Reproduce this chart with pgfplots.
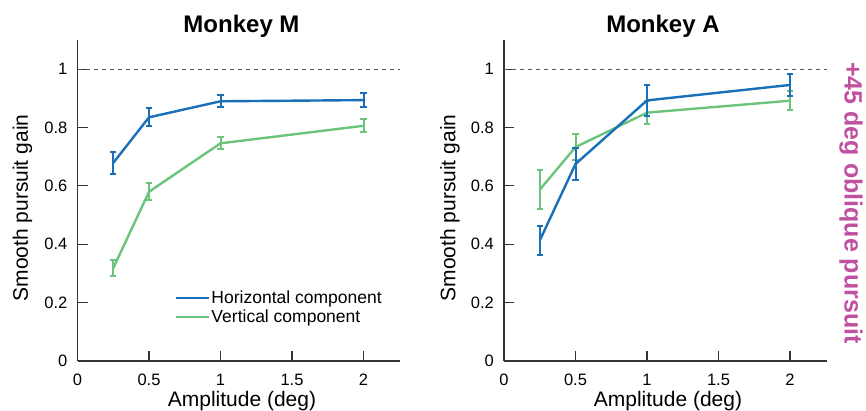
\documentclass[border=0pt]{standalone}
\usepackage{fontspec}
\setmainfont{Liberation Sans}
\usepackage{pgfplots}
\pgfplotsset{compat=1.18}
\definecolor{hBlue}{HTML}{1A70B8}
\definecolor{vGreen}{HTML}{6CC47C}
\definecolor{axisD}{HTML}{333333}
\definecolor{refG}{HTML}{555555}
\definecolor{sideM}{HTML}{C050A0}
\pgfplotsset{
  gainaxis/.style={
    scale only axis, width=322.5pt, height=321pt,
    xmin=0, xmax=2.255, ymin=0, ymax=1.1,
    axis lines=left,
    axis line style={-, axisD, line width=1.3pt},
    tick align=inside,
    major tick length=10pt,
    every tick/.append style={axisD, line width=1.1pt},
    xtick={0,0.5,1,1.5,2}, ytick={0,0.2,0.4,0.6,0.8,1},
    /pgf/number format/assume math mode=true,
    ticklabel style={font=\fontsize{16.5}{18}\selectfont, inner sep=0pt},
    xticklabel style={anchor=base, yshift=-24pt},
    yticklabel style={anchor=east, xshift=-10pt},
    clip=false,
  },
  gline/.style={line width=2.4pt, mark=none,
    error bars/.cd, y dir=both, y explicit,
    error mark=-,
    error bar style={line width=2pt},
    error mark options={rotate=90, line width=2pt, mark size=3.2pt}},
  refline/.style={refG, line width=1.3pt, dash pattern=on 4pt off 4pt, forget plot},
}
\begin{document}
\begin{tikzpicture}
\useasboundingbox (0pt,0pt) rectangle (866pt,410pt);

% Monkey M
\begin{axis}[gainaxis, at={(77.5pt,49pt)}, anchor=south west,
    legend style={at={(axis cs:0.66,0.252)}, anchor=north west, draw=none,
      fill=none, font=\fontsize{17.5}{19}\selectfont, row sep=3pt,
      nodes={inner sep=1pt}},
    legend cell align=left,
    legend image code/.code={\draw[#1, line width=2.4pt] (0pt,0pt) -- (28pt,0pt);
      \path (0pt,0pt) -- (33pt,0pt);}]
  \addplot[refline] coordinates {(0,1) (2.255,1)};
  \addplot[hBlue, gline] coordinates {
    (0.25,0.679) +- (0,0.037)
    (0.5,0.835) +- (0,0.031)
    (1,0.890) +- (0,0.020)
    (2,0.894) +- (0,0.023)};
  \addlegendentry{Horizontal component}
  \addplot[vGreen, gline] coordinates {
    (0.25,0.318) +- (0,0.028)
    (0.5,0.580) +- (0,0.029)
    (1,0.746) +- (0,0.020)
    (2,0.806) +- (0,0.022)};
  \addlegendentry{Vertical component}
\end{axis}

% Monkey A
\begin{axis}[gainaxis, at={(504pt,49pt)}, anchor=south west]
  \addplot[refline] coordinates {(0,1) (2.255,1)};
  \addplot[vGreen, gline] coordinates {
    (0.25,0.587) +- (0,0.066)
    (0.5,0.733) +- (0,0.045)
    (1,0.851) +- (0,0.039)
    (2,0.892) +- (0,0.033)};
  \addplot[hBlue, gline] coordinates {
    (0.25,0.413) +- (0,0.051)
    (0.5,0.675) +- (0,0.054)
    (1,0.893) +- (0,0.053)
    (2,0.946) +- (0,0.037)};
\end{axis}

\node[font=\fontsize{24}{28}\selectfont\bfseries, anchor=base] at (241.5pt,377pt) {Monkey M};
\node[font=\fontsize{24}{28}\selectfont\bfseries, anchor=base] at (663pt,377pt) {Monkey A};
\node[font=\fontsize{21}{24}\selectfont, anchor=base] at (242pt,3.3pt) {Amplitude (deg)};
\node[font=\fontsize{21}{24}\selectfont, anchor=base] at (668pt,3.3pt) {Amplitude (deg)};
\node[font=\fontsize{21}{24}\selectfont, rotate=90] at (22.5pt,202pt) {Smooth pursuit gain};
\node[font=\fontsize{21}{24}\selectfont, rotate=90] at (450pt,202pt) {Smooth pursuit gain};
\node[font=\fontsize{25}{28}\selectfont\bfseries, text=sideM, rotate=-90] at (851pt,207pt) {+45 deg oblique pursuit};
\end{tikzpicture}
\end{document}
